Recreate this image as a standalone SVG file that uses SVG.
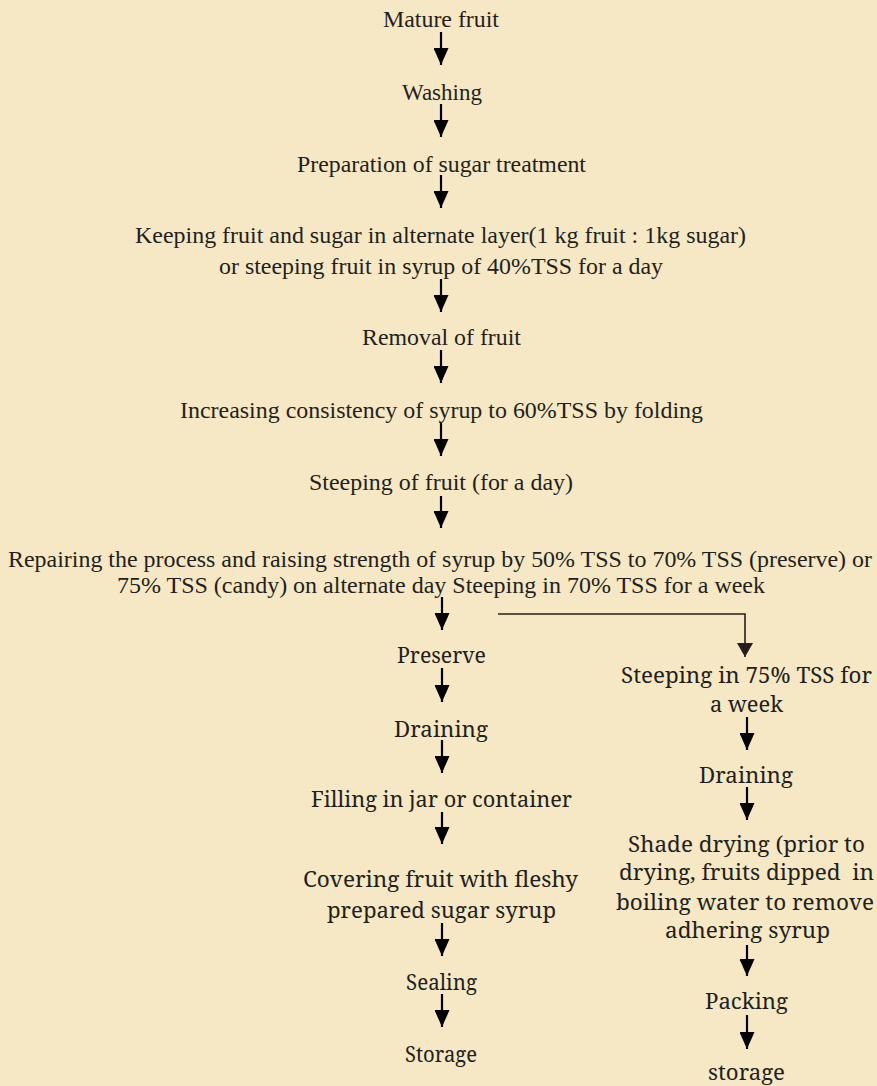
<svg xmlns="http://www.w3.org/2000/svg" width="877" height="1086" viewBox="0 0 877 1086">
<style>
.t{font-family:"Liberation Serif","Times New Roman",serif;font-size:24px;fill:#231f20;text-anchor:middle}
.p{font-family:"Noto Serif","DejaVu Serif",serif;font-size:22px;fill:#231f20;text-anchor:middle}
.a{stroke:#000;stroke-width:2.2;fill:none;marker-end:url(#ah)}
.b{stroke:#231f20;stroke-width:1.6;fill:none;marker-end:url(#ah2)}
</style>
<defs>
<marker id="ah" viewBox="0 0 17 15" refX="17" refY="7.5" markerWidth="17" markerHeight="15" markerUnits="userSpaceOnUse" orient="auto">
<path d="M0,0 L17,7.5 L0,15 Z" fill="#000"/>
</marker>
<marker id="ah2" viewBox="0 0 14 16" refX="14" refY="8" markerWidth="14" markerHeight="16" markerUnits="userSpaceOnUse" orient="auto">
<path d="M0,0 L14,8 L0,16 Z" fill="#231f20"/>
</marker>
</defs>
<rect width="877" height="1086" fill="#f6e8c5"/>
<g id="connectors">
<line class="a" x1="441" y1="32" x2="441" y2="65"/>
<line class="a" x1="441" y1="104" x2="441" y2="137"/>
<line class="a" x1="441" y1="175" x2="441" y2="208"/>
<line class="a" x1="441" y1="279" x2="441" y2="312"/>
<line class="a" x1="441" y1="350" x2="441" y2="383"/>
<line class="a" x1="441" y1="422" x2="441" y2="456"/>
<line class="a" x1="441" y1="496" x2="441" y2="528"/>
<line class="a" x1="442" y1="597" x2="442" y2="630"/>
<line class="a" x1="442" y1="668" x2="442" y2="702"/>
<line class="a" x1="442" y1="740" x2="442" y2="773"/>
<line class="a" x1="442" y1="812" x2="442" y2="844"/>
<line class="a" x1="442" y1="923" x2="442" y2="956"/>
<line class="a" x1="442" y1="994" x2="442" y2="1027"/>
<polyline class="b" points="498,614 745,614 745,657"/>
<line class="a" x1="747" y1="717" x2="747" y2="750"/>
<line class="a" x1="747" y1="787" x2="747" y2="820"/>
<line class="a" x1="747" y1="945" x2="747" y2="976"/>
<line class="a" x1="747" y1="1015" x2="747" y2="1049"/>
</g>
<g id="n1"><text class="t" x="441" y="27" textLength="116" lengthAdjust="spacingAndGlyphs">Mature fruit</text></g>
<g id="n2"><text class="t" x="442" y="100" textLength="80" lengthAdjust="spacingAndGlyphs">Washing</text></g>
<g id="n3"><text class="t" x="441.5" y="172" textLength="289" lengthAdjust="spacingAndGlyphs">Preparation of sugar treatment</text></g>
<g id="n4">
<text class="t" x="440.5" y="243" textLength="611" lengthAdjust="spacingAndGlyphs">Keeping fruit and sugar in alternate layer(1 kg fruit : 1kg sugar)</text>
<text class="t" x="441" y="274" textLength="444" lengthAdjust="spacingAndGlyphs">or steeping fruit in syrup of 40%TSS for a day</text>
</g>
<g id="n5"><text class="t" x="441.5" y="345" textLength="159" lengthAdjust="spacingAndGlyphs">Removal of fruit</text></g>
<g id="n6"><text class="t" x="441.5" y="418" textLength="523" lengthAdjust="spacingAndGlyphs">Increasing consistency of syrup to 60%TSS by folding</text></g>
<g id="n7"><text class="t" x="441" y="490" textLength="264" lengthAdjust="spacingAndGlyphs">Steeping of fruit (for a day)</text></g>
<g id="n8">
<text class="t" x="440" y="567" textLength="864" lengthAdjust="spacingAndGlyphs">Repairing the process and raising strength of syrup by 50% TSS to 70% TSS (preserve) or</text>
<text class="t" x="441" y="593" textLength="648" lengthAdjust="spacingAndGlyphs">75% TSS (candy) on alternate day Steeping in 70% TSS for a week</text>
</g>
<g id="n9"><text class="p" x="441.5" y="663" textLength="89" lengthAdjust="spacingAndGlyphs">Preserve</text></g>
<g id="n10"><text class="p" x="441" y="737" textLength="94" lengthAdjust="spacingAndGlyphs">Draining</text></g>
<g id="n11"><text class="p" x="441.5" y="807" textLength="261" lengthAdjust="spacingAndGlyphs">Filling in jar or container</text></g>
<g id="n12">
<text class="p" x="440.5" y="887" textLength="275" lengthAdjust="spacingAndGlyphs">Covering fruit with fleshy</text>
<text class="p" x="441.5" y="918" textLength="229" lengthAdjust="spacingAndGlyphs">prepared sugar syrup</text>
</g>
<g id="n13"><text class="p" x="441.5" y="990" textLength="71" lengthAdjust="spacingAndGlyphs">Sealing</text></g>
<g id="n14"><text class="p" x="441" y="1062" textLength="72" lengthAdjust="spacingAndGlyphs">Storage</text></g>
<g id="n15">
<text class="p" x="746.5" y="683" textLength="251" lengthAdjust="spacingAndGlyphs">Steeping in 75% TSS for</text>
<text class="p" x="746.5" y="712" textLength="73" lengthAdjust="spacingAndGlyphs">a week</text>
</g>
<g id="n16"><text class="p" x="746" y="783" textLength="94" lengthAdjust="spacingAndGlyphs">Draining</text></g>
<g id="n17">
<text class="p" x="746.5" y="852" textLength="237" lengthAdjust="spacingAndGlyphs">Shade drying (prior to</text>
<text class="p" x="746.5" y="880" textLength="255" lengthAdjust="spacingAndGlyphs" xml:space="preserve">drying, fruits dipped  in</text>
<text class="p" x="745" y="910" textLength="258" lengthAdjust="spacingAndGlyphs">boiling water to remove</text>
<text class="p" x="747.5" y="938" textLength="165" lengthAdjust="spacingAndGlyphs">adhering syrup</text>
</g>
<g id="n18"><text class="p" x="746.5" y="1009" textLength="83" lengthAdjust="spacingAndGlyphs">Packing</text></g>
<g id="n19"><text class="p" x="746.5" y="1080" textLength="77" lengthAdjust="spacingAndGlyphs">storage</text></g>
</svg>
